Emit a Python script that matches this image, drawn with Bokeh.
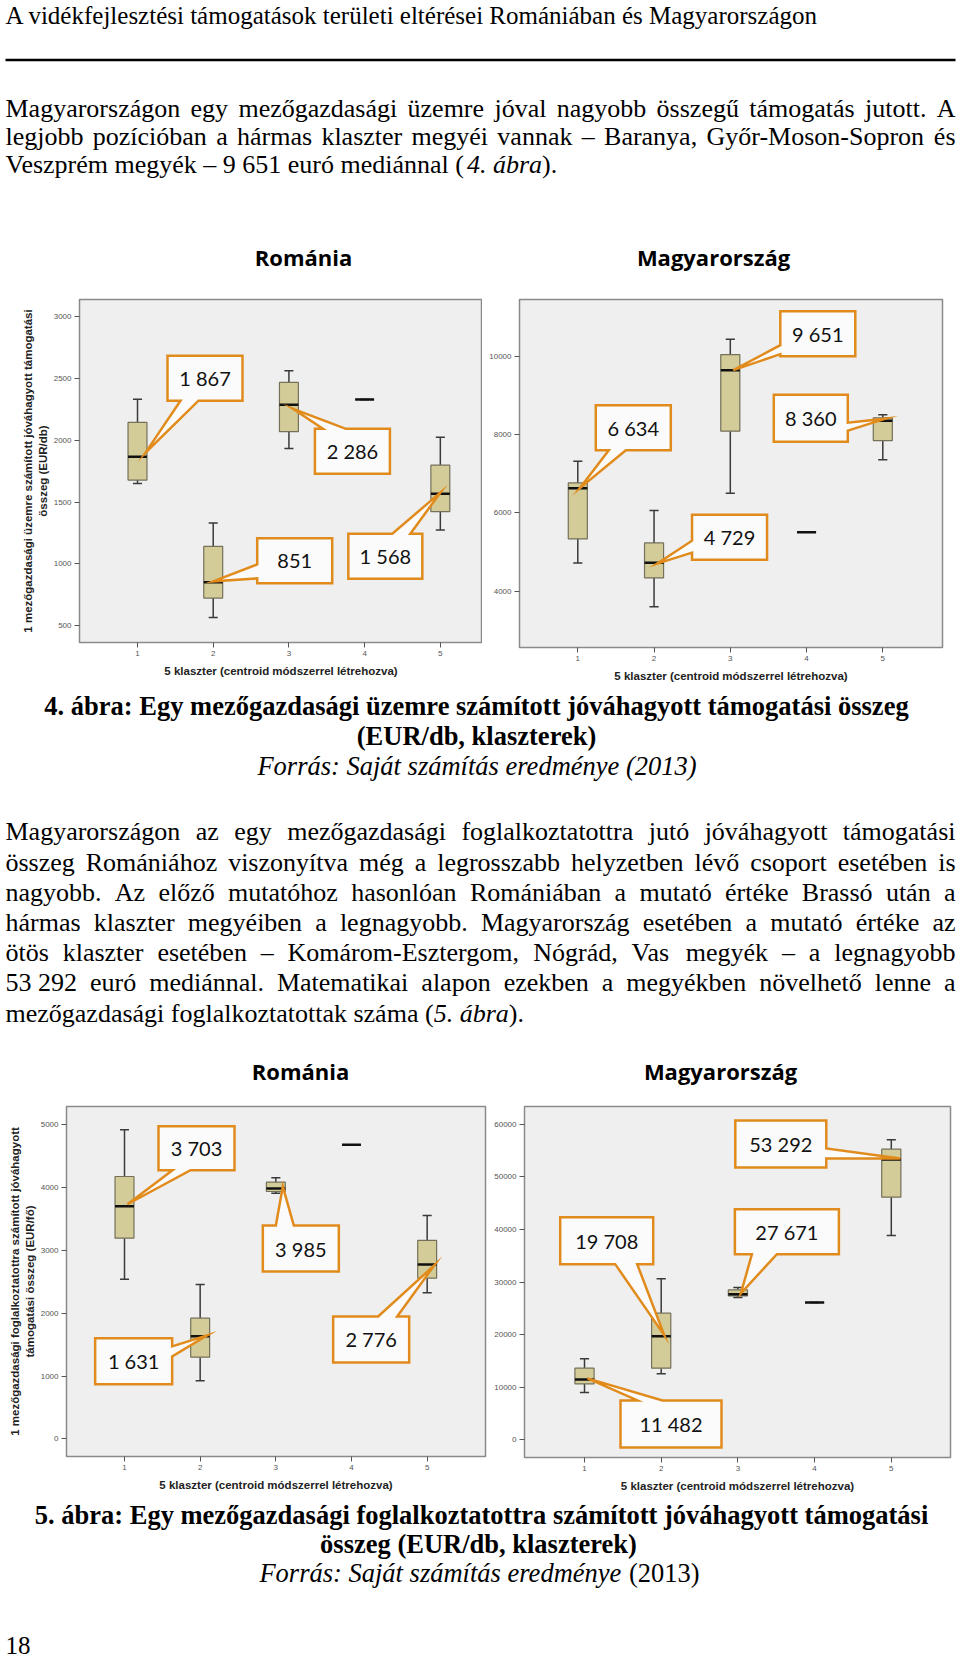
import unicodedata
from bokeh.plotting import figure
from bokeh.models import Range1d, FixedTicker, LinearAxis
from bokeh.layouts import column, row
from bokeh.core.properties import value
from bokeh.embed import file_html
from bokeh.resources import INLINE

# ---------------------------------------------------------------- data
clusters = [1, 2, 3, 4, 5]
x_title = "5 klaszter (centroid módszerrel létrehozva)"

# 4. ábra - Románia (EUR/db)
ro4_low = [1651, 568, 1934, 2330, 1274]
ro4_q1 = [1678, 724, 2069, 2330, 1422]
ro4_med = [1867, 851, 2286, 2330, 1568]
ro4_q3 = [2144, 1142, 2467, 2330, 1799]
ro4_high = [2332, 1330, 2561, 2330, 2023]
ro4_yticks = [500, 1000, 1500, 2000, 2500, 3000]

# 4. ábra - Magyarország (EUR/db)
hu4_low = [4722, 3605, 6503, 5506, 7358]
hu4_q1 = [5336, 4339, 8090, 5506, 7851]
hu4_med = [6634, 4729, 9651, 5506, 8360]
hu4_q3 = [6769, 5234, 10051, 5506, 8432]
hu4_high = [7322, 6061, 10443, 5506, 8508]
hu4_yticks = [4000, 6000, 8000, 10000]

# 5. ábra - Románia (EUR/fő)
ro5_low = [2542, 924, 3911, 4682, 2325]
ro5_q1 = [3195, 1300, 3938, 4682, 2558]
ro5_med = [3703, 1631, 3985, 4682, 2776]
ro5_q3 = [4177, 1921, 4087, 4682, 3158]
ro5_high = [4920, 2457, 4156, 4682, 3556]
ro5_yticks = [0, 1000, 2000, 3000, 4000, 5000]

# 5. ábra - Magyarország (EUR/fő)
hu5_low = [8995, 12550, 27050, 26100, 38840]
hu5_q1 = [10650, 13620, 27380, 26100, 46120]
hu5_med = [11482, 19708, 27671, 26100, 53292]
hu5_q3 = [13620, 24070, 28520, 26100, 55250]
hu5_high = [15400, 30610, 28960, 26100, 57030]
hu5_yticks = [0, 10000, 20000, 30000, 40000, 50000, 60000]

# ---------------------------------------------------------------- texts
header = "A vidékfejlesztési támogatások területi eltérései Romániában és Magyarországon"
para1 = [
    "Magyarországon egy mezőgazdasági üzemre jóval nagyobb összegű támogatás jutott. A",
    "legjobb pozícióban a hármas klaszter megyéi vannak – Baranya, Győr-Moson-Sopron és",
]
para1_last = [("Veszprém megyék – 9\u00a0651 euró mediánnal (", "normal"), ("4. ábra", "italic"), (").", "normal")]
cap4 = ["4. ábra: Egy mezőgazdasági üzemre számított jóváhagyott támogatási összeg",
        "(EUR/db, klaszterek)"]
src4 = [("Forrás: Saját számítás eredménye (2013)", "italic")]
para2 = [
    "Magyarországon az egy mezőgazdasági foglalkoztatottra jutó jóváhagyott támogatási",
    "összeg Romániához viszonyítva még a legrosszabb helyzetben lévő csoport esetében is",
    "nagyobb. Az előző mutatóhoz hasonlóan Romániában a mutató értéke Brassó után a",
    "hármas klaszter megyéiben a legnagyobb. Magyarország esetében a mutató értéke az",
    "ötös klaszter esetében – Komárom-Esztergom, Nógrád, Vas megyék – a legnagyobb",
    "53\u00a0292 euró mediánnal. Matematikai alapon ezekben a megyékben növelhető lenne a",
]
para2_last = [("mezőgazdasági foglalkoztatottak száma (", "normal"), ("5. ábra", "italic"), (").", "normal")]
cap5 = ["5. ábra: Egy mezőgazdasági foglalkoztatottra számított jóváhagyott támogatási",
        "összeg (EUR/db, klaszterek)"]
src5 = [("Forrás: Saját számítás eredménye", "italic"), (" (2013)", "normal")]
ylab_ro4 = ("1 mezőgazdasági üzemre számított jóváhagyott támogatási", "összeg (EUR/db)")
ylab_ro5 = ("1 mezőgazdasági foglalkoztatottra számított jóváhagyott", "támogatási összeg (EUR/fő)")

# ---------------------------------------------------------------- styles
W = 960
SERIF = "Liberation Serif"
BODY = 26
CAP = 26.5
ORANGE = "#e08b1c"
TX0, TX1 = 5, 955

REG = dict(zip("ABCDEFGHIJKLMNOPQRSTUVWXYZ",
               [722, 667, 667, 722, 611, 556, 722, 722, 333, 389, 722, 611, 889, 722, 722, 556, 722, 667, 556, 611,
                722, 722, 944, 722, 722, 611]))
REG.update(zip("abcdefghijklmnopqrstuvwxyz",
               [444, 500, 444, 500, 444, 333, 500, 500, 278, 278, 500, 278, 778, 500, 500, 500, 500, 333, 389, 278,
                500, 500, 722, 500, 500, 444]))
REG.update({c: 500 for c in "0123456789"})
REG.update({" ": 250, "\u00a0": 250, ".": 250, ",": 250, ":": 278, ";": 278, "(": 333, ")": 333, "-": 333,
            "–": 500, "/": 278})
ITAL = dict(zip("ABCDEFGHIJKLMNOPQRSTUVWXYZ",
                [611, 611, 667, 722, 611, 611, 722, 722, 333, 444, 667, 556, 833, 667, 722, 611, 722, 611, 500, 556,
                 722, 611, 833, 611, 556, 556]))
ITAL.update(zip("abcdefghijklmnopqrstuvwxyz",
                [500, 500, 444, 500, 444, 278, 500, 500, 278, 278, 444, 278, 722, 500, 500, 500, 500, 389, 389, 278,
                 500, 444, 667, 444, 444, 389]))
ITAL.update({c: 500 for c in "0123456789"})
ITAL.update({" ": 250, "\u00a0": 250, ".": 250, ",": 250, ":": 333, "(": 333, ")": 333, "-": 333})
TABLES = {"normal": REG, "italic": ITAL}


def tw(s, style, size):
    table = TABLES[style]
    tot = 0
    for ch in s:
        c = ch if ch in table else unicodedata.normalize("NFD", ch)[0]
        tot += table.get(c, 500)
    return tot * size / 1000.0


def text_fig(h):
    p = figure(frame_width=W, frame_height=h, x_range=Range1d(0, W), y_range=Range1d(h, 0),
               x_axis_type=None, y_axis_type=None, output_backend="svg", toolbar_location=None,
               min_border=0, background_fill_color="white", border_fill_color="white")
    p.outline_line_color = None
    return p


def put(p, xs, ys, texts, size=BODY, style="normal", align="left", font=SERIF, color="#000000"):
    # ys are the wanted baselines; the renderer draws alphabetic text lower, so lift it
    lift = 0.37 * size
    p.text(x=xs, y=[y - lift for y in ys], text=[t.replace("\u00a0", " ") for t in texts],
           text_font=value(font), text_font_size=f"{size}px", text_font_style=style, text_align=align,
           text_baseline="alphabetic", text_color=color)


def justify(p, s, y, x0=TX0, x1=TX1, size=BODY):
    words = s.split(" ")
    widths = [tw(w, "normal", size) for w in words]
    gap = (x1 - x0 - sum(widths)) / (len(words) - 1)
    xs, x = [], x0
    for wdt in widths:
        xs.append(x)
        x += wdt + gap
    put(p, xs, [y] * len(words), words, size=size)


def mixed(p, parts, y, x0=TX0, center=None, size=BODY):
    total = sum(tw(t, st, size) for t, st in parts)
    x = x0 if center is None else center - total / 2
    for t, st in parts:
        lead = len(t) - len(t.lstrip(" "))
        x += tw(" " * lead, st, size)
        t2 = t.lstrip(" ")
        put(p, [x], [y], [t2], size=size, style=st)
        x += tw(t2, st, size)


def style_axis(ax):
    ax.axis_line_color = None
    ax.major_tick_out = 5
    ax.major_tick_in = 0
    ax.major_tick_line_color = "#555555"
    ax.minor_tick_line_color = None
    ax.major_label_text_font = "Liberation Sans"
    ax.major_label_text_font_size = "8px"
    ax.major_label_text_color = "#555555"
    ax.major_label_standoff = 3
    ax.axis_label_text_font = "Liberation Sans"
    ax.axis_label_text_font_size = "11.5px"
    ax.axis_label_text_font_style = "bold"
    ax.axis_label_text_color = "#222222"


def bubble(L, T, R, B, side, b1, b2, tx, ty):
    if side == "bottom":
        return [(L, T), (R, T), (R, B), (b2, B), (tx, ty), (b1, B), (L, B)]
    if side == "top":
        return [(L, T), (b1, T), (tx, ty), (b2, T), (R, T), (R, B), (L, B)]
    if side == "left":
        return [(L, T), (R, T), (R, B), (L, B), (L, b2), (tx, ty), (L, b1)]
    return [(L, T), (R, T), (R, b1), (tx, ty), (R, b2), (R, B), (L, B)]


def box_chart(fw, fh, bl, br, bt, bb, xr, yr, yticks, low, q1, med, q3, high, callouts, ylab=None):
    p = figure(frame_width=fw, frame_height=fh, min_border_left=bl, min_border_right=br,
               min_border_top=bt, min_border_bottom=bb, x_range=Range1d(*xr), y_range=Range1d(*yr),
               output_backend="svg", toolbar_location=None,
               background_fill_color="#efefef", border_fill_color="white")
    p.outline_line_color = "#8a8a8a"
    p.outline_line_width = 1.5
    p.grid.visible = False
    xa, ya = p.xaxis[0], p.yaxis[0]
    style_axis(xa)
    style_axis(ya)
    xa.ticker = FixedTicker(ticks=clusters)
    xa.axis_label = x_title
    xa.axis_label_standoff = 6
    ya.ticker = FixedTicker(ticks=yticks)
    if ylab:
        ya.axis_label = ylab[1]
        ya.axis_label_standoff = 2
        extra = LinearAxis(ticker=FixedTicker(ticks=[]), axis_label=ylab[0])
        style_axis(extra)
        extra.major_tick_out = 0
        extra.major_label_standoff = 0
        extra.major_label_text_font_size = "0px"
        extra.major_tick_line_color = None
        extra.axis_label_standoff = 0
        p.add_layout(extra, "left")

    cx = clusters
    wc = "#3a3a3a"
    p.segment(x0=cx, y0=q3, x1=cx, y1=high, line_color=wc, line_width=1.5)
    p.segment(x0=cx, y0=q1, x1=cx, y1=low, line_color=wc, line_width=1.5)
    p.segment(x0=[c - 0.06 for c in cx], y0=high, x1=[c + 0.06 for c in cx], y1=high, line_color=wc, line_width=1.5)
    p.segment(x0=[c - 0.06 for c in cx], y0=low, x1=[c + 0.06 for c in cx], y1=low, line_color=wc, line_width=1.5)
    p.vbar(x=cx, width=0.25, bottom=q1, top=q3, fill_color="#d3cc98", line_color="#74705a", line_width=1.2)
    p.segment(x0=[c - 0.125 for c in cx], y0=med, x1=[c + 0.125 for c in cx], y1=med,
              line_color="#111111", line_width=2.5)

    sx = fw / (xr[1] - xr[0])
    sy = fh / (yr[1] - yr[0])
    for c, (tip, rect, side, base) in callouts.items():
        i = clusters.index(c)
        X, Y = c, med[i]
        L, T, R, B = rect
        pts = bubble(L, T, R, B, side, base[0], base[1], tip[0], tip[1])
        p.patch([X + a / sx for a, _ in pts], [Y - b / sy for _, b in pts], fill_color="#fbfbfb",
                line_color=ORANGE, line_width=2.5, line_join="miter")
        lab = f"{int(Y):,}".replace(",", " ")
        p.text(x=[X + (L + R) / 2 / sx], y=[Y - (T + B) / 2 / sy], text=[lab], text_font=value("Lato"),
               text_font_size="20px", text_align="center", text_baseline="middle", text_color="#111111")
    return p


# callout geometry (pixels relative to the median point, y downward)
co_ro4 = {1: ((8, -4), (30, -101, 105, -56), "bottom", (43, 61)),
          2: ((0, -1), (44, -44, 119, 1), "left", (-18, -4)),
          3: ((4, 4), (26, 24, 101, 69), "top", (34, 57)),
          5: ((0, -1), (-92, 40, -18, 85), "top", (-48, -30))}
co_hu4 = {1: ((2, 0), (18, -83, 93, -38), "bottom", (31, 48)),
          2: ((3, 1), (38, -48, 113, -3), "left", (-22, -10)),
          3: ((3, 0), (50, -59, 125, -14), "left", (-25, -16)),
          5: ((3, -2), (-109, -26, -35, 21), "right", (2, 10))}
co_ro5 = {1: ((3, -2), (34, -80, 110, -36), "bottom", (48, 66)),
          2: ((7, -1), (-105, 2, -28, 48), "right", (10, 20)),
          3: ((7, -2), (-13, 37, 63, 83), "top", (0, 18)),
          5: ((7, 1), (-94, 52, -18, 98), "top", (-49, -30))}
co_hu5 = {1: ((3, -1), (36, 21, 137, 68), "top", (53, 78)),
          2: ((3, -1), (-101, -119, -8, -72), "bottom", (-46, -24)),
          3: ((3, -1), (-3, -85, 101, -40), "bottom", (14, 39)),
          5: ((9, -1), (-156, -39, -65, 8), "right", (-11, -1))}

# ---------------------------------------------------------------- page parts
# top text block (page y 0..282)
fa = text_fig(282)
put(fa, [TX0], [24], [header], size=25)
fa.segment(x0=[TX0], y0=[59.5], x1=[TX1], y1=[59.5], line_color="#000000", line_width=2.5)
for k, line in enumerate(para1):
    justify(fa, line, 117.3 + 28.2 * k)
mixed(fa, para1_last, 117.3 + 28.2 * 2)
put(fa, [303], [265], ["Románia"], size=22, style="bold", align="center", font="Open Sans")
put(fa, [713], [265], ["Magyarország"], size=22, style="bold", align="center", font="Open Sans")

# charts row 1 (page y 282..690)
ro4 = box_chart(403, 343, 79, 0, 15, 50, (0.2338, 5.557), (365, 3137.3), ro4_yticks,
                ro4_low, ro4_q1, ro4_med, ro4_q3, ro4_high, co_ro4, ylab=ylab_ro4)
hu4 = box_chart(423, 348, 37, 18, 17, 43, (0.2354, 5.783), (2560, 11458), hu4_yticks,
                hu4_low, hu4_q1, hu4_med, hu4_q3, hu4_high, co_hu4)

# middle text block (page y 690..1100)
fb = text_fig(410)
put(fb, [476], [25], [cap4[0]], size=CAP, style="bold", align="center")
put(fb, [476], [55], [cap4[1]], size=CAP, style="bold", align="center")
mixed(fb, src4, 85, center=477, size=CAP)
for k, line in enumerate(para2):
    justify(fb, line, 151 + 30.2 * k)
mixed(fb, para2_last, 151 + 30.2 * 6)
put(fb, [300], [389], ["Románia"], size=22, style="bold", align="center", font="Open Sans")
put(fb, [720], [389], ["Magyarország"], size=22, style="bold", align="center", font="Open Sans")

# charts row 2 (page y 1100..1500)
ro5 = box_chart(419, 350, 66, 2, 6, 44, (0.2335, 5.771), (-281.8, 5291.3), ro5_yticks,
                ro5_low, ro5_q1, ro5_med, ro5_q3, ro5_high, co_ro5, ylab=ylab_ro5)
hu5 = box_chart(426, 351, 37, 10, 5, 44, (0.2177, 5.772), (-3365, 63365), hu5_yticks,
                hu5_low, hu5_q1, hu5_med, hu5_q3, hu5_high, co_hu5)

# bottom text block (page y 1500..1660)
fc = text_fig(160)
put(fc, [481], [24], [cap5[0]], size=CAP, style="bold", align="center")
put(fc, [478], [53], [cap5[1]], size=CAP, style="bold", align="center")
mixed(fc, src5, 82, center=479, size=CAP)
put(fc, [TX0], [154], ["18"], size=25)

layout = column(fa, row(ro4, hu4), fb, row(ro5, hu5), fc)

with open("out.html", "w", encoding="utf-8") as f:
    f.write(file_html(layout, INLINE, title="Vidékfejlesztési támogatások"))
